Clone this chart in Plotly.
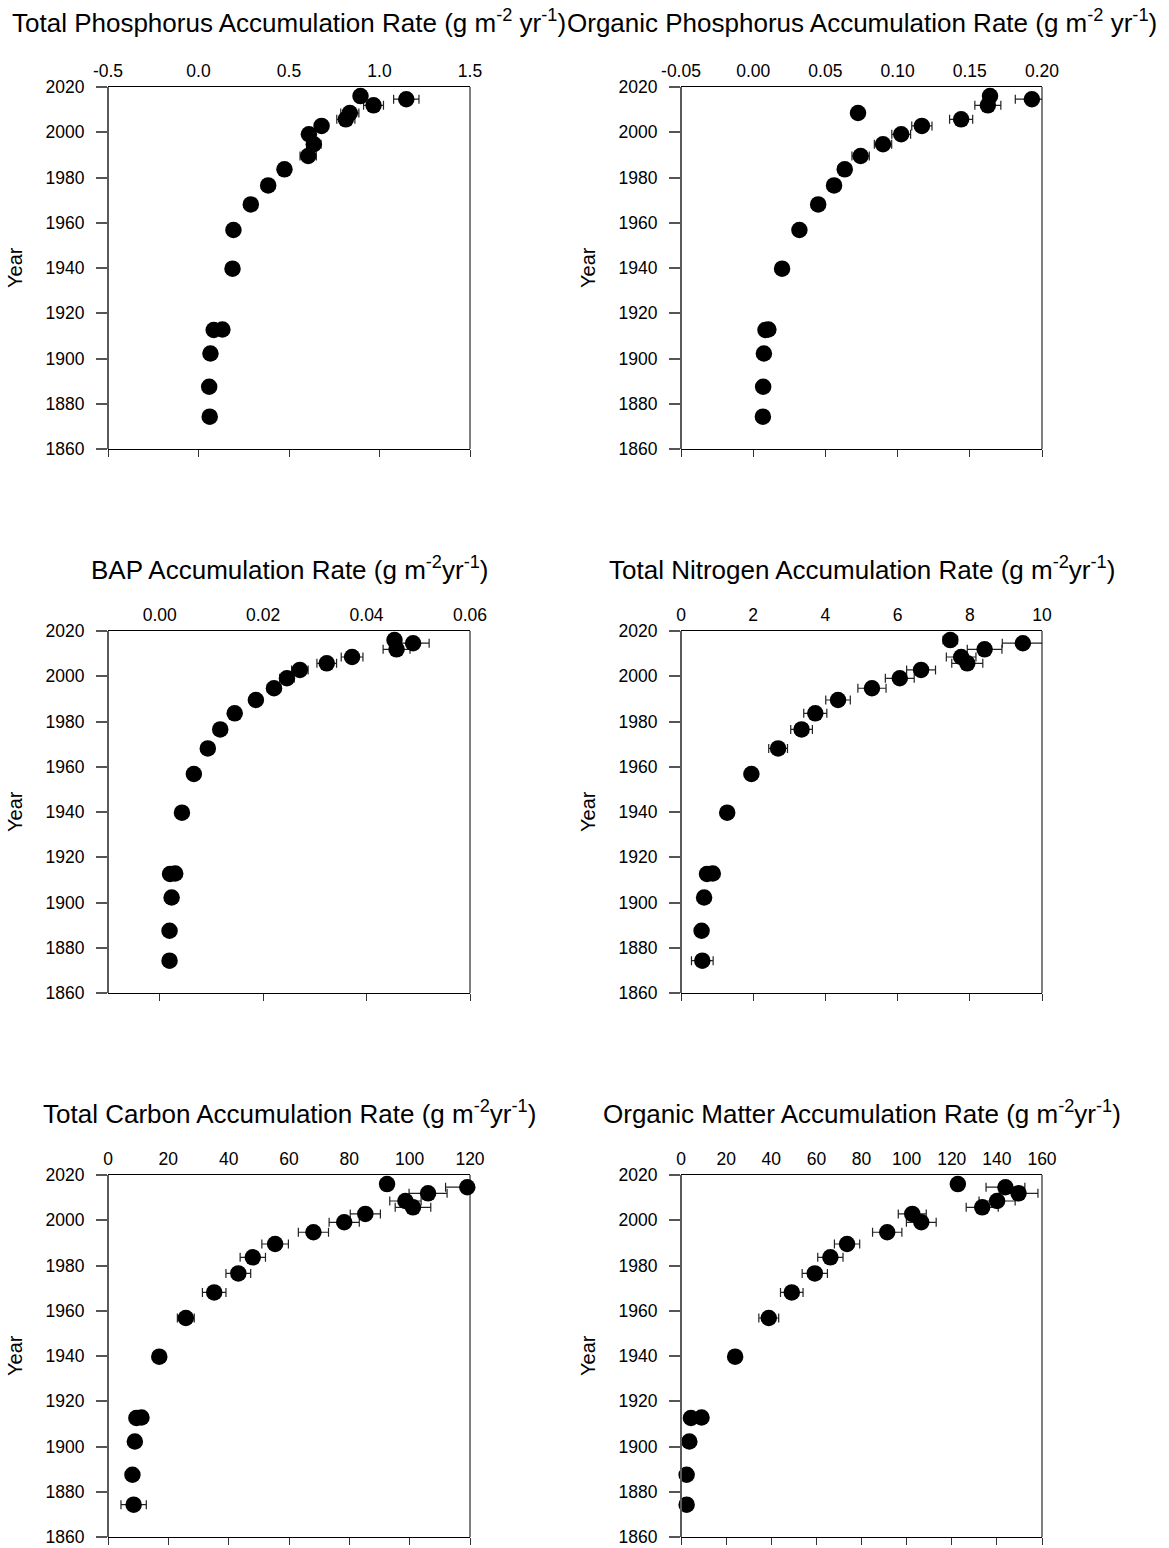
import plotly.graph_objects as go

W, H = 1169, 1548

years = [2016.0, 2014.6, 2011.9, 2008.5, 2005.7, 2002.8, 1999.1, 1994.7, 1989.5,
         1983.6, 1976.5, 1968.1, 1956.8, 1939.7, 1912.6, 1912.8, 1902.2, 1887.5, 1874.3]

tp = [0.895, 1.148, 0.967, 0.836, 0.814, 0.68, 0.61, 0.637, 0.606, 0.475, 0.385,
      0.289, 0.193, 0.188, 0.084, 0.132, 0.066, 0.059, 0.062]
tp_err = [0.02, 0.07, 0.055, 0.05, 0.05, 0.03, 0.03, 0.04, 0.045, 0.02, 0.02,
          0.02, 0.01, 0.01, 0.01, 0.01, 0.01, 0.01, 0.01]

op = [0.164, 0.193, 0.1625, 0.0726, 0.144, 0.1168, 0.1025, 0.0899, 0.0744, 0.0634,
      0.056, 0.045, 0.032, 0.020, 0.0085, 0.0105, 0.0074, 0.0069, 0.0067]
op_err = [0.003, 0.0115, 0.009, 0.002, 0.008, 0.007, 0.0065, 0.006, 0.006, 0.0045,
          0.003, 0.002, 0.002, 0.001, 0.001, 0.001, 0.001, 0.001, 0.001]

bap = [0.0454, 0.049, 0.0458, 0.0372, 0.0323, 0.0271, 0.0246, 0.0221, 0.0186, 0.0145,
       0.0117, 0.0093, 0.0066, 0.0043, 0.0020, 0.0030, 0.0023, 0.0019, 0.0019]
bap_err = [0.001, 0.0031, 0.0026, 0.0021, 0.0019, 0.0016, 0.0014, 0.0013, 0.001, 0.0008,
           0.0006, 0.0005, 0.0004, 0.0002, 0.0001, 0.0001, 0.0001, 0.0001, 0.0001]

tn = [7.46, 9.47, 8.41, 7.76, 7.93, 6.65, 6.06, 5.29, 4.35, 3.72, 3.34, 2.69, 1.95,
      1.28, 0.72, 0.88, 0.64, 0.57, 0.59]
tn_err = [0.2, 0.57, 0.48, 0.41, 0.43, 0.40, 0.40, 0.39, 0.34, 0.32, 0.30, 0.26, 0.12,
          0.08, 0.05, 0.05, 0.05, 0.05, 0.30]

tc = [92.5, 119.1, 106.1, 98.6, 101.1, 85.3, 78.3, 68.1, 55.4, 48.0, 43.2, 35.2, 25.8,
      17.0, 9.4, 11.1, 8.9, 8.1, 8.5]
tc_err = [2, 7.2, 6.3, 5.2, 5.9, 5.0, 5.0, 5.0, 4.4, 4.2, 4.1, 3.9, 2.8, 1.0, 0.5, 0.5,
          0.5, 1.0, 4.2]

om = [122.7, 143.8, 149.6, 140.1, 133.5, 102.5, 106.5, 91.4, 73.6, 66.2, 59.3, 49.1,
      38.9, 24.0, 4.4, 9.1, 3.7, 2.5, 2.5]
om_err = [2, 8.6, 8.6, 8.0, 7.1, 6.2, 6.6, 6.5, 5.6, 5.6, 5.6, 5.0, 4.4, 1.0, 0.5, 0.5,
          0.5, 0.5, 0.5]

titles = [
    "Total Phosphorus Accumulation Rate (g m<sup>-2</sup> yr<sup>-1</sup>)",
    "Organic Phosphorus Accumulation Rate (g m<sup>-2</sup> yr<sup>-1</sup>)",
    "BAP Accumulation Rate (g m<sup>-2</sup>yr<sup>-1</sup>)",
    "Total Nitrogen Accumulation Rate (g m<sup>-2</sup>yr<sup>-1</sup>)",
    "Total Carbon Accumulation Rate (g m<sup>-2</sup>yr<sup>-1</sup>)",
    "Organic Matter Accumulation Rate (g m<sup>-2</sup>yr<sup>-1</sup>)",
]
values = [tp, op, bap, tn, tc, om]
errors = [tp_err, op_err, bap_err, tn_err, tc_err, om_err]
x_ranges = [[-0.5, 1.5], [-0.05, 0.20], [-0.01, 0.06], [0, 10], [0, 120], [0, 160]]
x_ticks = [[-0.5, 0.0, 0.5, 1.0, 1.5],
           [-0.05, 0.0, 0.05, 0.10, 0.15, 0.20],
           [0.0, 0.02, 0.04, 0.06],
           [0, 2, 4, 6, 8, 10],
           [0, 20, 40, 60, 80, 100, 120],
           [0, 20, 40, 60, 80, 100, 120, 140, 160]]
x_labels = [["-0.5", "0.0", "0.5", "1.0", "1.5"],
            ["-0.05", "0.00", "0.05", "0.10", "0.15", "0.20"],
            ["0.00", "0.02", "0.04", "0.06"],
            ["0", "2", "4", "6", "8", "10"],
            ["0", "20", "40", "60", "80", "100", "120"],
            ["0", "20", "40", "60", "80", "100", "120", "140", "160"]]
year_ticks = [1860, 1880, 1900, 1920, 1940, 1960, 1980, 2000, 2020]

# pixel layout of plot areas
cols = [(108, 470), (681, 1042)]
rows = [(87, 449), (631, 993), (1175, 1537)]
title_y = [22, 568, 1112]
year_x = [15, 588]

FONT = "Liberation Sans, Arial, sans-serif"
fig = go.Figure()
layout = dict(width=W, height=H, margin=dict(l=0, r=0, t=0, b=0, autoexpand=False),
              paper_bgcolor="white", plot_bgcolor="white", showlegend=False,
              font=dict(family=FONT, color="black"))
annotations = []
shapes = []

for i in range(6):
    r, c = divmod(i, 2)
    n = i + 1
    nb = i + 7
    xd = [cols[c][0] / W, cols[c][1] / W]
    yd = [1 - rows[r][1] / H, 1 - rows[r][0] / H]
    xa = "x" if n == 1 else f"x{n}"
    ya = "y" if n == 1 else f"y{n}"
    xb = f"x{nb}"

    fig.add_trace(go.Scatter(
        x=values[i], y=years, mode="markers", xaxis=xa, yaxis=ya,
        marker=dict(size=16.5, color="black"),
        error_x=dict(type="data", array=errors[i], visible=True, color="#222",
                     thickness=1.2, width=4.5),
        cliponaxis=False, hoverinfo="x+y"))
    fig.add_trace(go.Scatter(x=[None], y=[None], xaxis=xb, yaxis=ya,
                             mode="markers", showlegend=False, hoverinfo="skip"))

    layout[f"xaxis{n}"] = dict(
        domain=xd, anchor=ya, side="top", range=x_ranges[i], tickvals=x_ticks[i],
        ticktext=x_labels[i], ticks="", showgrid=False, zeroline=False,
        showline=True, mirror=True, linecolor="black", linewidth=1,
        tickfont=dict(size=17.5, family=FONT), ticklabelstandoff=2, automargin=False)
    layout[f"xaxis{nb}"] = dict(
        domain=xd, anchor=ya, side="bottom", overlaying=xa, range=x_ranges[i],
        tickvals=x_ticks[i], ticks="outside", ticklen=7, tickcolor="#333",
        tickwidth=1, showticklabels=False, showgrid=False, zeroline=False,
        showline=False, automargin=False)
    layout[f"yaxis{n}"] = dict(
        domain=yd, anchor=xa, range=[1860, 2020], tickvals=year_ticks,
        ticks="outside", ticklen=11, tickcolor="#555", tickwidth=1.5,
        showgrid=False, zeroline=False, showline=False, ticklabelstandoff=8,
        tickfont=dict(size=17.5, family=FONT), automargin=False)
    # frame sides
    shapes.append(dict(type="line", xref="paper", yref="paper",
                       x0=xd[0], x1=xd[0], y0=yd[0], y1=yd[1],
                       line=dict(color="#5a5a5a", width=2)))
    shapes.append(dict(type="line", xref="paper", yref="paper",
                       x0=xd[1], x1=xd[1], y0=yd[0], y1=yd[1],
                       line=dict(color="black", width=1)))
    annotations.append(dict(
        text=titles[i], xref="paper", yref="paper",
        x=(xd[0] + xd[1]) / 2, y=1 - title_y[r] / H, xanchor="center",
        yanchor="middle", showarrow=False, font=dict(size=26, family=FONT)))
    annotations.append(dict(
        text="Year", xref="paper", yref="paper", textangle=-90,
        x=year_x[c] / W, y=(yd[0] + yd[1]) / 2, xanchor="center",
        yanchor="middle", showarrow=False, font=dict(size=20, family=FONT)))

layout["annotations"] = annotations
layout["shapes"] = shapes
fig.update_layout(**layout)
fig.write_html("out.html")
